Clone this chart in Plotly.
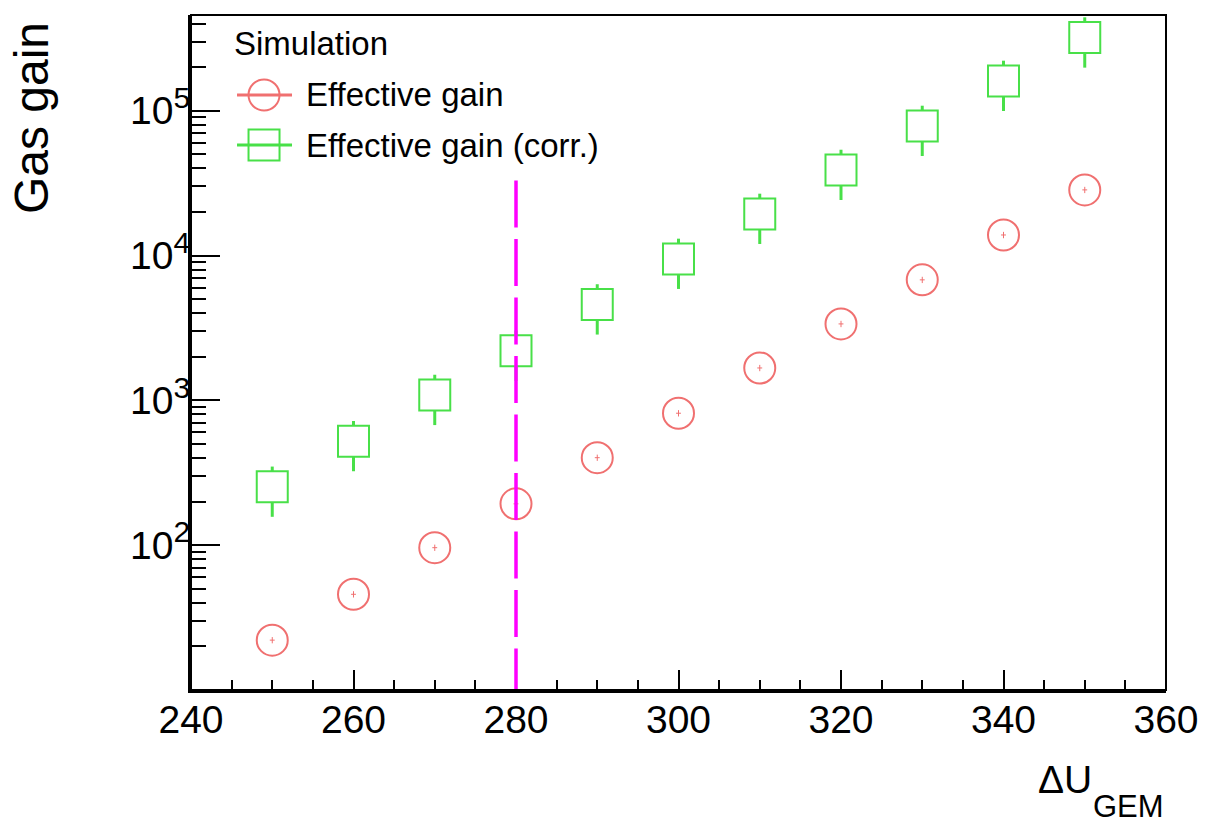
import plotly.graph_objects as go

# ---------------- data ----------------
voltage = [250, 260, 270, 280, 290, 300, 310, 320, 330, 340, 350]
gain_eff = [22.1, 45.8, 96.1, 193, 402, 815, 1674, 3372, 6795, 13870, 28400]
gain_eff_err = [1.1, 2.3, 4.8, 9.6, 20, 41, 84, 170, 340, 700, 1420]
gain_corr = [253, 522, 1089, 2202, 4592, 9480, 19380, 38990, 78500, 160600, 320000]
gain_corr_err = [96, 198, 414, 837, 1745, 3600, 7360, 14800, 29800, 61000, 121600]
cut_voltage = 280
cut_top = 3.3e4

x_tick_vals = [240, 260, 280, 300, 320, 340, 360]
y_tick_vals = [1e2, 1e3, 1e4, 1e5]
y_tick_text = ['10<sup><span style="font-size:30px">2</span></sup>',
               '10<sup><span style="font-size:30px">3</span></sup>',
               '10<sup><span style="font-size:30px">4</span></sup>',
               '10<sup><span style="font-size:30px">5</span></sup>']
y_minor_vals = [m * 10 ** d for d in range(1, 6) for m in range(2, 10)]

RED = "#F07070"
GREEN = "#48E048"
MAGENTA = "#FF00FF"
FONT = "Liberation Sans, Arial, Helvetica, sans-serif"

fig = go.Figure()

fig.add_trace(go.Scatter(
    x=voltage, y=gain_eff, mode="markers", name="Effective gain",
    marker=dict(symbol="circle-open", size=31, color=RED, line=dict(width=2, color=RED)),
    error_y=dict(type="data", array=gain_eff_err, visible=True, color=RED, thickness=1, width=0),
    error_x=dict(type="constant", value=0.3, visible=True, color=RED, thickness=1, width=0),
    showlegend=False,
))
fig.add_trace(go.Scatter(
    x=voltage, y=gain_corr, mode="markers", name="Effective gain (corr.)",
    marker=dict(symbol="square", size=31, color="white", line=dict(width=2, color=GREEN)),
    error_y=dict(type="data", array=gain_corr_err, visible=True, color=GREEN, thickness=3, width=0),
    showlegend=False,
))
# invisible trace to carry the minor-tick overlay axis
fig.add_trace(go.Scatter(
    x=voltage, y=gain_eff, yaxis="y2", mode="markers",
    marker=dict(opacity=0), hoverinfo="skip", showlegend=False,
))

# vertical cut line
fig.add_shape(type="line", xref="x", yref="y", x0=cut_voltage, x1=cut_voltage,
              y0=cut_top, y1=10, layer="above",
              line=dict(color=MAGENTA, width=3.5, dash="47px,11.5px"))

# frame (top/right)
fig.add_shape(type="rect", xref="paper", yref="paper", x0=0, x1=1, y0=0, y1=1,
              line=dict(color="black", width=2), layer="above")

# ---------------- manual legend ----------------
lx0, lx1, lxm, ltx = 0.0472, 0.1036, 0.0749, 0.1159
ly1, ly2 = 0.8815, 0.8074
fig.add_annotation(text="Simulation", xref="paper", yref="paper", x=0.042, y=0.9585,
                   xanchor="left", yanchor="middle", showarrow=False,
                   font=dict(size=33, family=FONT, color="black"))
for yy, col, sym, lab in [(ly1, RED, "circle", "Effective gain"),
                          (ly2, GREEN, "rect", "Effective gain (corr.)")]:
    fig.add_shape(type="line", xref="paper", yref="paper", x0=lx0, x1=lx1, y0=yy, y1=yy,
                  line=dict(color=col, width=3))
    fig.add_shape(type=sym, xref="paper", yref="paper", xsizemode="pixel", ysizemode="pixel",
                  xanchor=lxm, yanchor=yy, x0=-15.5, x1=15.5, y0=-15.5, y1=15.5,
                  line=dict(color=col, width=2))
    fig.add_annotation(text=lab, xref="paper", yref="paper", x=ltx, y=yy,
                       xanchor="left", yanchor="middle", showarrow=False,
                       font=dict(size=33, family=FONT, color="black"))

# axis titles
fig.add_annotation(text="Gas gain", xref="paper", yref="paper", x=-0.163, y=0.9926,
                   xanchor="center", yanchor="top", textangle=-90, showarrow=False,
                   font=dict(size=48, family=FONT, color="black"))
fig.add_annotation(text="ΔU", xref="paper", yref="paper", x=0.926, y=-0.1326,
                   xanchor="right", yanchor="middle", showarrow=False,
                   font=dict(size=39, family=FONT, color="black"))
fig.add_annotation(text="GEM", xref="paper", yref="paper", x=1.0, y=-0.1725,
                   xanchor="right", yanchor="middle", showarrow=False,
                   font=dict(size=31, family=FONT, color="black"))

fig.update_layout(
    width=1205, height=825,
    margin=dict(l=191, r=39, t=15, b=135),
    paper_bgcolor="white", plot_bgcolor="white",
    font=dict(family=FONT, color="black"),
    xaxis=dict(
        range=[240, 360], tickvals=x_tick_vals, ticks="inside", ticklen=20, tickwidth=2,
        tickcolor="black", showline=True, linecolor="black", linewidth=3,
        showgrid=False, zeroline=False, tickfont=dict(size=39, family=FONT),
        automargin=False, ticklabelstandoff=-7,
        minor=dict(dtick=5, ticks="inside", ticklen=10, tickwidth=2, tickcolor="black", showgrid=False),
    ),
    yaxis=dict(
        type="log", range=[1, 5.661], tickvals=y_tick_vals, ticktext=y_tick_text,
        ticks="inside", ticklen=29, tickwidth=2, tickcolor="black",
        showline=True, linecolor="black", linewidth=3, showgrid=False, zeroline=False,
        tickfont=dict(size=39, family=FONT), automargin=False, ticklabelstandoff=-10,
    ),
    yaxis2=dict(
        type="log", range=[1, 5.661], overlaying="y", side="left", anchor="x",
        tickvals=y_minor_vals, showticklabels=False, ticks="inside", ticklen=15,
        tickwidth=2, tickcolor="black", showline=False, showgrid=False, zeroline=False,
        automargin=False,
    ),
)

fig.write_html("out.html")
